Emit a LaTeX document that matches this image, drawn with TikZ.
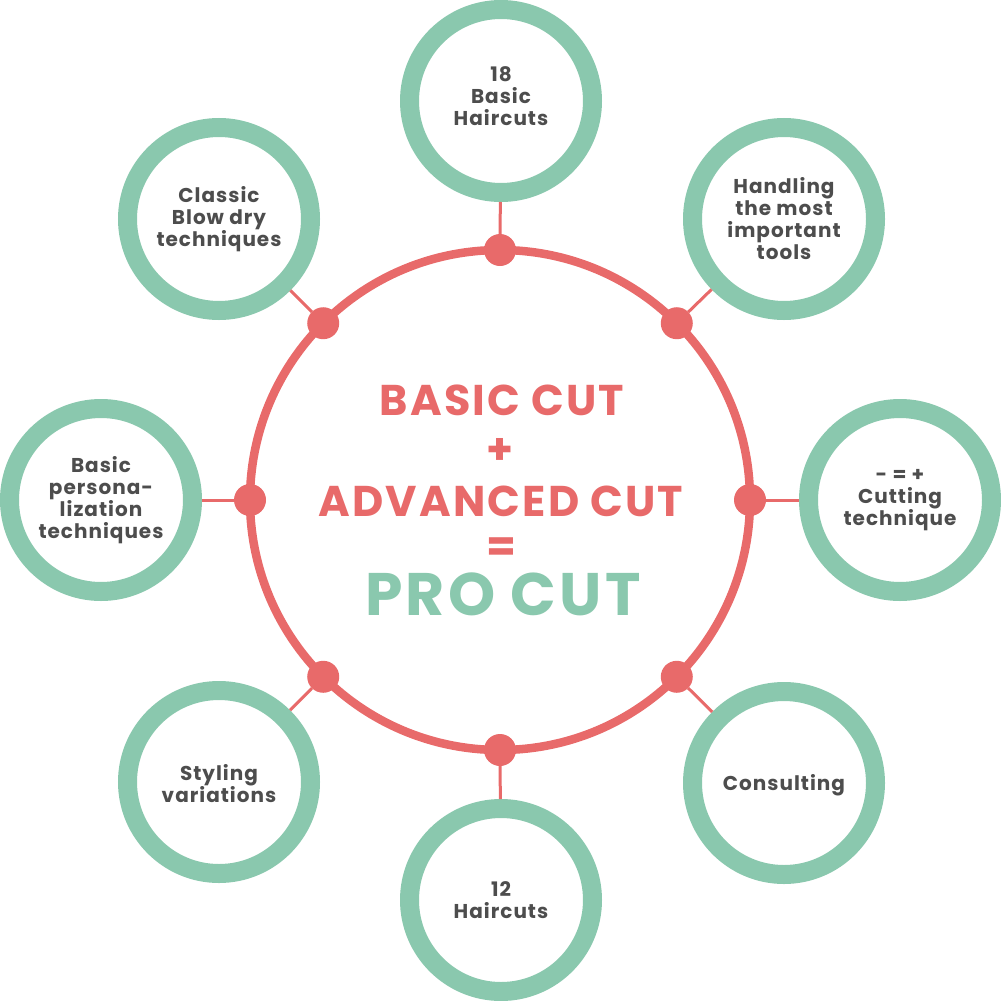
\documentclass[tikz,border=0pt]{standalone}
\usepackage{fontspec}
\setmainfont{Poppins}[LetterSpace=5]
\definecolor{cutred}{HTML}{E86A6A}
\definecolor{cutgreen}{HTML}{8AC8AE}
\definecolor{txtgray}{HTML}{4D4D4D}
\begin{document}
\begin{tikzpicture}[x=1pt,y=-1pt,
  ring/.style={circle, draw=cutgreen, line width=19pt, fill=white, minimum size=183pt, inner sep=0pt, outer sep=9.5pt},
  lbl/.style={align=center, text=txtgray, inner sep=0pt, font=\fontsize{20}{22}\selectfont\bfseries},
  hub/.style={circle, draw=cutred, line width=8.5pt, minimum size=500pt, inner sep=0pt, outer sep=0pt},
  dot/.style={circle, fill=cutred, minimum size=32pt, inner sep=0pt, outer sep=0pt},
  link/.style={draw=cutred, line width=3pt},
  bigred/.style={text=cutred, inner sep=0pt, font=\fontsize{43}{43}\selectfont\bfseries},
  biggreen/.style={text=cutgreen, inner sep=0pt, font=\fontsize{60}{60}\selectfont\bfseries}]
\useasboundingbox (0,0) rectangle (1001,1001);
\node[hub] (hub) at (500,500) {};
\foreach \a/\n in {90/d1,45/d2,0/d3,-45/d4,-90/d5,-135/d6,180/d7,135/d8}
  \node[dot] (\n) at (hub.\a) {};
\node[ring] (c1) at (501,101) {};
\node[ring] (c2) at (784,219) {};
\node[ring] (c3) at (900,500) {};
\node[ring] (c4) at (784,783) {};
\node[ring] (c5) at (501,900) {};
\node[ring] (c6) at (219,782) {};
\node[ring] (c7) at (101,500) {};
\node[ring] (c8) at (219,219) {};
\node[lbl, yshift=5pt] (l1) at (c1) {18\\Basic\\Haircuts};
\node[lbl] (l2) at (c2) {Handling\\the most\\important\\tools};
\node[lbl] (l3) at (c3) {- = +\\Cutting\\technique};
\node[lbl, yshift=-2pt] (l4) at (c4) {Consulting};
\node[lbl] (l5) at (c5) {12\\Haircuts};
\node[lbl, yshift=-2pt] (l6) at (c6) {Styling\\variations};
\node[lbl] (l7) at (c7) {Basic\\persona-\\lization\\techniques};
\node[lbl] (l8) at (c8) {Classic\\Blow dry\\techniques};
\foreach \i in {1,...,8} \draw[link] (d\i) -- (c\i);
\node[bigred, anchor=base] (t1) at (502,415) {BASIC CUT};
\node[bigred] (t2) at (500,451) {+};
\node[bigred, anchor=base] (t3) at (501,516) {ADVANCED CUT};
\node[bigred] (t4) at (501,550) {=};
\node[biggreen, anchor=base] (t5) at (503,615) {PRO CUT};
\end{tikzpicture}
\end{document}
